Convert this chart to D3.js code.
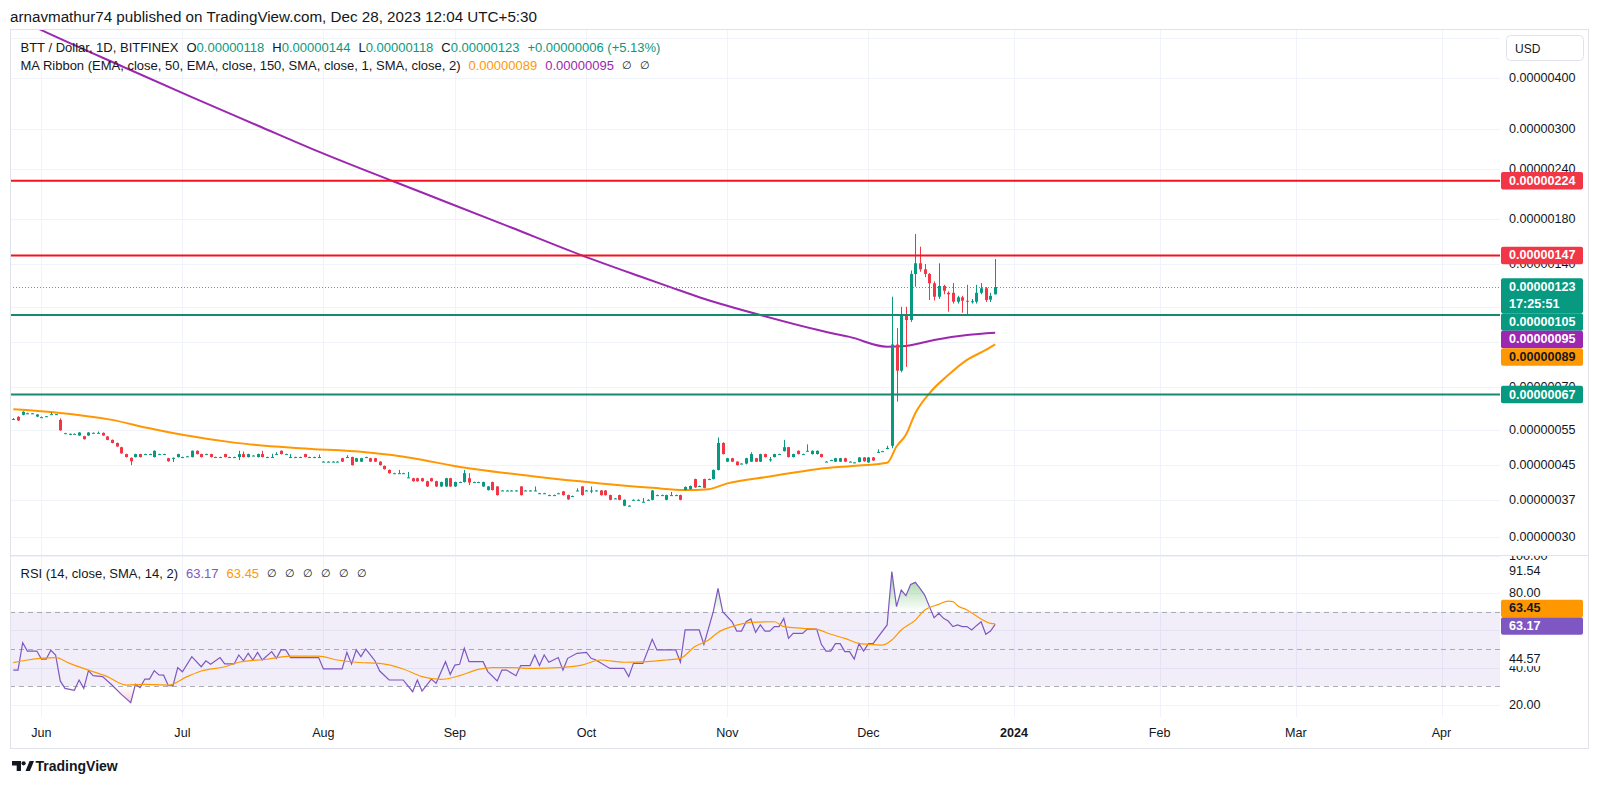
<!DOCTYPE html>
<html>
<head>
<meta charset="utf-8">
<script src="https://cdn.jsdelivr.net/npm/d3@7/dist/d3.min.js"></script>
<style>
  html, body { margin:0; padding:0; background:#ffffff; }
  svg { display:block; }
  text { font-family: "Liberation Sans", Arial, sans-serif; }
</style>
</head>
<body>
<svg id="chart" width="1600" height="787"></svg>
<script>
// ================= DATA (prices in units of 1e-8 USD) =================
const startDate = "2023-05-26";
const endDate = "2023-12-28";
const missingDates = ["2023-07-31","2023-08-20","2023-08-27","2023-08-28","2023-09-03","2023-09-17","2023-10-01"];

const open = [
58.4,59.1,59.8,60.3,60.3,59.2,59.0,59.3,60.0,60.0,
58.1,53.9,53.7,53.7,53.2,53.0,53.2,54.0,54.0,54.0,
52.9,51.9,51.0,49.8,47.9,46.9,47.1,47.9,47.9,47.9,
47.1,47.9,47.9,46.8,46.9,47.1,47.1,47.3,47.1,48.8,
47.9,47.9,47.9,47.1,47.1,47.9,47.1,47.1,47.1,47.9,
47.1,47.5,47.1,47.9,47.1,47.1,47.9,48.8,47.9,47.1,
47.1,47.1,47.9,47.1,47.1,47.1,45.9,45.9,45.9,45.9,
46.8,47.1,47.1,45.9,45.9,47.1,46.8,46.8,45.9,44.8,
43.8,43.0,43.0,43.0,42.0,41.8,41.8,41.8,41.1,41.8,
41.1,39.9,39.9,41.8,39.9,40.9,40.9,41.8,40.9,40.9,
39.9,39.1,40.9,39.9,39.0,39.0,39.0,39.0,39.9,39.0,
39.0,39.0,38.4,38.4,38.0,38.0,38.4,38.8,38.0,37.8,
39.0,39.9,39.0,39.0,39.0,39.0,39.0,38.0,37.3,38.0,
35.8,35.8,37.0,37.0,36.6,37.0,37.0,38.0,38.0,37.0,
38.0,38.0,38.0,39.1,39.3,41.6,40.0,41.6,41.6,41.6,
43.8,51.0,45.9,46.8,45.9,45.4,45.4,45.9,46.8,45.9,
47.9,46.5,47.1,47.9,48.7,49.8,47.1,48.8,47.9,48.8,
47.9,47.9,47.9,45.9,46.3,45.9,45.9,46.8,45.9,45.7,
45.8,47.0,45.7,47.0,48.4,48.7,49.3,50.2,88.9,76.7,
105,102.1,132.4,140.6,135.9,132.4,125.6,116.4,123.7,119,
119,113.2,116,113.8,113.2,113.2,119,122.1,114.5,118];
const high = [
58.7,59.3,61.0,60.5,60.4,60.0,59.2,59.4,60.6,60.1,
58.6,54.0,53.8,53.8,54.2,53.1,54.2,54.1,54.4,54.1,
53.0,52.0,51.1,49.9,48.0,47.0,48.0,48.0,48.0,48.0,
48.9,48.0,48.0,46.9,47.0,48.0,47.2,47.4,48.9,48.9,
48.0,48.0,48.0,47.2,47.2,48.0,47.2,47.2,48.8,48.6,
48.0,47.6,48.0,48.8,47.2,48.0,48.4,48.9,48.0,47.9,
47.2,47.2,48.0,47.2,47.2,47.8,46.0,46.0,46.0,46.0,
46.9,47.6,47.2,46.9,46.9,47.2,46.9,46.9,46.0,44.9,
43.9,43.1,43.8,43.1,43.3,41.9,41.9,41.9,41.2,41.9,
41.2,41.0,41.9,41.9,41.0,41.0,43.8,43.0,41.0,41.0,
41.0,40.0,41.0,40.0,39.1,39.1,39.1,39.1,40.0,39.1,
39.1,39.9,38.5,38.5,38.1,38.1,38.5,38.9,38.1,37.9,
39.5,40.0,39.1,39.9,39.1,39.1,39.1,38.1,37.4,38.1,
37.1,35.9,37.1,37.1,37.4,37.1,39.1,38.1,38.1,38.1,
38.7,38.1,38.1,39.9,40.1,41.7,40.1,41.7,41.7,43.9,
52.6,51.2,46.9,46.9,46.0,45.5,46.9,48.4,46.9,48.0,
48.0,47.1,48.0,48.0,51.9,49.9,48.0,48.9,48.0,50.6,
48.9,48.9,48.0,46.0,46.4,46.9,46.9,46.9,46.0,45.8,
47.1,47.1,47.1,47.1,49.2,48.8,50.2,116.4,97.6,110,
110,135,165.9,154.4,140,133,127,140.6,124.5,120,
125.8,117,117,124.5,115,124.5,125.7,123,119,144];
const low = [
58.2,57.7,59.6,60.1,60.1,59.0,58.9,59.1,59.9,59.8,
54.6,53.8,53.3,53.6,53.1,52.0,53.1,53.9,53.9,53.1,
51.8,50.9,49.9,48.0,47.0,45.0,47.0,47.0,47.8,47.8,
47.0,47.8,47.8,45.9,45.8,47.0,47.0,47.2,47.0,47.8,
47.0,47.8,47.0,47.0,47.0,47.0,47.0,47.0,46.3,47.0,
47.0,47.4,47.0,47.0,47.0,47.0,47.8,47.8,47.8,47.0,
47.0,47.0,47.0,47.0,47.0,47.0,45.8,45.8,45.8,45.8,
45.8,47.0,44.9,45.8,45.8,47.0,45.8,45.8,44.9,43.9,
42.9,42.9,42.9,42.9,41.9,41.0,41.0,41.0,39.8,41.0,
39.8,39.8,39.8,39.8,39.8,40.8,40.8,40.2,40.8,40.8,
39.8,39.0,39.0,37.9,38.9,38.9,38.9,38.9,37.9,38.9,
38.9,38.9,38.3,38.3,37.9,37.9,38.3,37.9,37.0,37.7,
38.9,37.9,38.9,38.4,38.9,37.9,37.9,36.9,37.2,36.9,
35.7,35.7,36.9,36.9,36.5,36.9,36.9,37.9,37.9,36.9,
37.9,37.9,36.9,39.0,39.2,39.6,39.9,39.5,41.5,41.5,
43.7,47.8,45.8,45.8,44.9,45.3,45.2,45.8,45.8,45.8,
47.0,45.9,47.0,47.8,48.6,47.0,47.0,47.8,47.8,48.7,
47.8,47.8,47.0,45.8,46.2,45.8,45.8,45.8,45.8,45.6,
45.7,45.9,45.6,46.1,48.2,48.6,49.2,49.5,64.4,76.0,
78.4,101,123.2,134,130,114.3,114,115,118,107,
112,112,106.4,105,112,112,118,113,113,118];
const close = [
58.4,57.9,60.8,60.3,60.3,59.9,59.0,59.3,60.0,60.0,
54.8,53.9,53.7,53.7,54.1,52.1,54.1,54.0,54.0,53.2,
51.9,51.0,50.0,48.1,47.1,46.0,47.9,47.1,47.9,47.9,
48.8,47.9,47.9,46.0,46.9,47.9,47.1,47.3,48.8,47.9,
47.1,47.9,47.1,47.1,47.1,47.1,47.1,47.1,47.9,47.1,
47.9,47.5,47.9,47.1,47.1,47.1,47.9,47.9,47.9,47.1,
47.1,47.1,47.1,47.1,47.1,47.1,45.9,45.9,45.9,45.9,
45.9,47.1,45.0,46.8,46.8,47.1,45.9,45.9,45.0,44.0,
43.0,43.0,43.0,43.0,42.0,41.1,41.1,41.1,39.9,41.1,
39.9,40.9,41.8,39.9,40.9,40.9,43.0,40.8,40.9,40.9,
40.9,39.9,39.1,38.0,39.0,39.0,39.0,39.0,38.0,39.0,
39.0,39.0,38.4,38.4,38.0,38.0,38.4,38.0,37.1,37.8,
39.0,38.0,39.0,39.0,39.0,38.0,38.0,37.0,37.3,37.0,
37.0,35.8,37.0,37.0,36.6,37.0,39.0,38.0,38.0,38.0,
38.0,38.0,37.0,39.8,40.0,39.7,40.0,39.6,41.6,43.8,
51.0,47.9,46.8,45.9,45.0,45.4,46.8,47.9,45.9,47.9,
47.1,46.5,47.9,47.9,49.8,47.1,47.9,47.9,47.9,48.8,
48.8,48.8,47.1,45.9,46.3,46.8,46.8,45.9,45.9,45.7,
47.0,46.0,47.0,46.2,48.5,48.7,49.6,88.9,76.7,105,
102.1,132.4,140.6,135.9,132.4,125.6,116.4,123.7,120.4,118,
113.2,116,113.8,113.2,113.5,119,122.1,114.3,117,123];

// MA Ribbon: EMA 50 (orange) and EMA 150 (purple), read at bar indices
const ema50Bars   = [0,9,21,29,36,47,61,75,82,86,93,111,125,136,143,148,152,161,171,180,186,188,190,192,195,199,203,207,209];
const ema50Values = [61.7,60.6,58.1,55.4,53.4,51.1,49.5,48.4,47.4,46.6,45.0,42.2,40.6,39.6,39.1,39.3,40.6,42.2,44.0,44.9,45.6,50.0,53.4,60.3,67.5,74.8,81.5,86.2,89.0];
const ema150Bars   = [0,6,24,38,52,65,81,92,106,121,133,140,147,159,174,178,186,190,196,203,209];
const ema150Values = [565,524,423,359,306,264,223,199,172,147,131,122.7,115.1,105,94.9,92.8,87.8,88.2,91.2,93.8,95];

// RSI (14) and its SMA (14), vertices read at bar indices
const rsiBars = [0,1,2,3,5,6,7,8,9,10,11,13,14,15,16,17,19,21,23,25,26,27,28,29,30,31,32,33,34,35,36,38,40,41,42,44,45,47,48,49,50,51,52,53,55,56,57,58,59,65,66,70,71,72,73,74,75,76,77,78,80,83,85,86,87,89,90,92,93,94,95,96,97,100,101,103,104,105,107,108,110,111,112,113,114,116,117,118,120,122,123,124,127,130,131,132,134,136,137,141,142,143,146,147,149,150,151,153,154,155,156,157,158,159,160,161,162,163,164,165,166,168,169,171,172,173,174,175,176,177,178,179,180,181,182,183,186,187,188,189,190,191,192,193,194,195,196,197,198,199,200,201,202,203,204,205,206,207,208,209];
const rsiValues = [38.7,38.7,53.4,48.9,48.9,44.6,44.6,49.3,46.8,32.9,28.9,27.9,33.4,28.9,38.4,35.7,35.2,30.7,25.7,21.2,31.1,29.3,33.9,33.9,38.4,36.1,36.0,30.3,30.3,40.0,37.8,45.9,40.5,43.7,41.8,45.4,42.0,42.0,46.8,43.7,47.7,44.1,48.2,44.1,48.6,45.0,49.5,49.5,45.4,45.4,39.3,39.3,48.2,42.0,49.5,45.9,50.0,46.8,43.6,38.2,33.4,33.4,27.1,33.4,27.5,33.9,31.6,43.2,36.4,41.4,41.8,50.4,43.2,43.2,37.9,32.9,38.7,38.7,35.7,41.1,41.1,46.8,41.1,46.8,42.9,45.4,38.7,45.0,47.7,48.2,45.0,44.1,39.6,39.6,35.2,42.3,42.3,55.2,49.5,49.5,42.9,60.2,60.2,52.5,70.0,82.5,70.0,64.6,59.6,59.6,64.6,66.1,58.9,62.9,59.6,59.6,62.0,62.0,66.4,55.7,58.4,58.4,60.7,60.7,52.5,48.9,48.9,52.9,52.9,48.6,48.6,44.6,52.9,48.9,52.9,52.9,62.9,91.54,72.7,81.6,78.6,84.6,85.7,82.5,78.9,72.7,66.8,69.1,66.4,65.0,62.0,62.9,62.0,62.0,60.2,62.5,64.6,57.9,59.6,63.17];
const rsiMaBars = [0,3,9,12,16,20,24,28,33,37,40,45,48,54,59,65,69,73,78,83,87,91,95,99,102,106,111,116,121,125,130,135,139,142,145,148,150,153,157,162,164,168,171,174,177,180,182,185,187,189,192,194,197,199,200,201,203,206,208,209];
const rsiMaValues = [42.7,44.1,45.4,42.3,38.7,35.2,30.7,31.1,30.7,35.2,38.2,40.5,42.9,44.5,46.2,46.2,44.1,42.9,42.3,39.3,35.2,33.7,35.7,39.1,40.0,40.0,39.6,40.0,41.4,44.1,42.9,43.2,44.1,45.0,51.2,54.8,58.9,62.0,64.3,64.6,62.0,61.1,60.5,57.9,55.7,53.0,52.5,52.1,54.8,60.2,65.5,70.9,73.9,75.7,75.4,73.2,70.9,66.1,63.7,63.45];

// Horizontal drawings
const resistanceLevels = [224, 147];
const supportLevels = [105, 67];

// Axis ticks (grid lines) and the tick labels that are visible
const priceTicks = [500, 400, 300, 240, 180, 140, 110, 90, 70, 55, 45, 37, 30];
const priceTickLabels = [400, 300, 240, 180, 140, 70, 55, 45, 37, 30];
const rsiTicks = [100, 80, 60, 40, 20];
const rsiTickLabels = [100, 80, 40, 20];
const rsiExtraLabels = [91.54, 44.57];
const rsiLevels = [70, 50, 30];
const monthTicks = ["2023-06-01","2023-07-01","2023-08-01","2023-09-01","2023-10-01","2023-11-01","2023-12-01","2024-01-01","2024-02-01","2024-03-01","2024-04-01"];
const countdown = "17:25:51";
const headerText = "arnavmathur74 published on TradingView.com, Dec 28, 2023 12:04 UTC+5:30";

// ================= LAYOUT / STYLE =================
const P = {l:10, r:1500, t:30, b:555};     // main pane
const R = {t:556, b:717};                  // rsi pane
const AX = 1509;                           // axis text x
const C = {
  text:"#131722", grid:"#f0f3fa", frame:"#e0e3eb",
  up:"#089981", down:"#f23645", red:"#f23645", teal:"#089981",
  ema50:"#ff9800", ema150:"#9c27b0", rsi:"#7e57c2", rsiMa:"#ff9800"
};
const fmtP = v => (v/1e8).toFixed(8);

const svg = d3.select("#chart");
svg.append("rect").attr("width",1600).attr("height",787).attr("fill","#fff");
const defs = svg.append("defs");

// ---------- dates / scales ----------
const fmtDay = d3.utcFormat("%Y-%m-%d");
const parseDay = d3.utcParse("%Y-%m-%d");
const dates = d3.utcDay.range(parseDay(startDate), d3.utcDay.offset(parseDay(endDate),1))
  .filter(d => !missingDates.includes(fmtDay(d)));
const bars = dates.map((d,i) => ({i, date:d, o:open[i], h:high[i], l:low[i], c:close[i]}));
const last = bars.length - 1;

const x = d3.scaleLinear().domain([-0.7, 316.45]).range([P.l, P.r]);
const y = d3.scaleLog().domain([30, 400]).range([537, 78]);
const yr = d3.scaleLinear().domain([20, 80]).range([705, 593]);

function dateIndex(d) {
  if (d <= dates[last]) return d3.bisectLeft(dates, d);
  return last + d3.utcDay.count(dates[last], d);
}

// ---------- clip paths ----------
defs.append("clipPath").attr("id","clipMain").append("rect")
  .attr("x",P.l).attr("y",P.t).attr("width",P.r-P.l).attr("height",P.b-P.t);
defs.append("clipPath").attr("id","clipRsi").append("rect")
  .attr("x",P.l).attr("y",R.t).attr("width",P.r-P.l).attr("height",R.b-R.t);
defs.append("clipPath").attr("id","clipMainAxis").append("rect")
  .attr("x",P.r).attr("y",62).attr("width",88).attr("height",P.b-62);
defs.append("clipPath").attr("id","clipRsiAxis").append("rect")
  .attr("x",P.r).attr("y",R.t).attr("width",88).attr("height",R.b-R.t);
defs.append("clipPath").attr("id","clipOB").append("rect")
  .attr("x",P.l).attr("y",R.t).attr("width",P.r-P.l).attr("height",yr(70)-R.t);
defs.append("clipPath").attr("id","clipOS").append("rect")
  .attr("x",P.l).attr("y",yr(30)).attr("width",P.r-P.l).attr("height",R.b-yr(30));

const gOB = defs.append("linearGradient").attr("id","gradOB").attr("gradientUnits","userSpaceOnUse")
  .attr("x1",0).attr("x2",0).attr("y1",yr(100)).attr("y2",yr(70));
gOB.append("stop").attr("offset",0).attr("stop-color","#4caf50").attr("stop-opacity",0.85);
gOB.append("stop").attr("offset",1).attr("stop-color","#4caf50").attr("stop-opacity",0);
const gOS = defs.append("linearGradient").attr("id","gradOS").attr("gradientUnits","userSpaceOnUse")
  .attr("x1",0).attr("x2",0).attr("y1",yr(30)).attr("y2",yr(0));
gOS.append("stop").attr("offset",0).attr("stop-color","#f23645").attr("stop-opacity",0);
gOS.append("stop").attr("offset",1).attr("stop-color","#f23645").attr("stop-opacity",0.8);

// ---------- grid ----------
const tickDates = monthTicks.map(s => parseDay(s));
const grid = svg.append("g");
grid.selectAll("line.v").data(tickDates).join("line")
  .attr("x1", d => Math.round(x(dateIndex(d)))+0.5).attr("x2", d => Math.round(x(dateIndex(d)))+0.5)
  .attr("y1", P.t).attr("y2", R.b).attr("stroke", C.grid);
grid.selectAll("line.h").data(priceTicks).join("line")
  .attr("x1", P.l).attr("x2", P.r)
  .attr("y1", d => Math.round(y(d))+0.5).attr("y2", d => Math.round(y(d))+0.5)
  .attr("stroke", C.grid);
grid.selectAll("line.hr").data(rsiTicks).join("line")
  .attr("x1", P.l).attr("x2", P.r)
  .attr("y1", d => Math.round(yr(d))+0.5).attr("y2", d => Math.round(yr(d))+0.5)
  .attr("stroke", C.grid);

// ---------- main pane ----------
const main = svg.append("g").attr("clip-path","url(#clipMain)");
const lineGen = d3.line().x(d => x(d.i)).y(d => y(d.v)).curve(d3.curveMonotoneX);
main.append("path").datum(ema150Bars.map((b,k)=>({i:b, v:ema150Values[k]})))
  .attr("d", lineGen).attr("fill","none").attr("stroke",C.ema150).attr("stroke-width",2);
main.append("path").datum(ema50Bars.map((b,k)=>({i:b, v:ema50Values[k]})))
  .attr("d", lineGen).attr("fill","none").attr("stroke",C.ema50).attr("stroke-width",2);

const col = d => d.c >= d.o ? C.up : C.down;
const cx = d => Math.round(x(d.i));
main.selectAll("line.wick").data(bars).join("line")
  .attr("x1", d => cx(d)+0.5).attr("x2", d => cx(d)+0.5)
  .attr("y1", d => y(d.h)).attr("y2", d => y(d.l))
  .attr("stroke", col).attr("stroke-width",1);
main.selectAll("rect.body").data(bars).join("rect")
  .attr("x", d => cx(d)-1).attr("width", 3)
  .attr("y", d => Math.min(y(d.o), y(d.c)))
  .attr("height", d => Math.max(1, Math.abs(y(d.o)-y(d.c))))
  .attr("fill", col);

// current price dotted line
main.append("line").attr("x1",P.l).attr("x2",P.r)
  .attr("y1", Math.round(y(close[last]))+0.5).attr("y2", Math.round(y(close[last]))+0.5)
  .attr("stroke", C.teal).attr("stroke-opacity",0.8).attr("stroke-dasharray","1,2").attr("stroke-width",1);

// horizontal drawings
main.selectAll("line.res").data(resistanceLevels).join("line")
  .attr("x1",P.l).attr("x2",P.r).attr("y1", d=>y(d)).attr("y2", d=>y(d))
  .attr("stroke","#f5121f").attr("stroke-width",2);
main.selectAll("line.sup").data(supportLevels).join("line")
  .attr("x1",P.l).attr("x2",P.r).attr("y1", d=>y(d)).attr("y2", d=>y(d))
  .attr("stroke","#158a6e").attr("stroke-width",2);

// ---------- RSI pane ----------
const rp = svg.append("g").attr("clip-path","url(#clipRsi)");
rp.append("rect").attr("x",P.l).attr("width",P.r-P.l)
  .attr("y", yr(70)).attr("height", yr(30)-yr(70)).attr("fill","rgba(126,87,194,0.1)");
rp.selectAll("line.lvl").data(rsiLevels).join("line")
  .attr("x1",P.l).attr("x2",P.r)
  .attr("y1", d => Math.round(yr(d))+0.5).attr("y2", d => Math.round(yr(d))+0.5)
  .attr("stroke","#787b86").attr("stroke-opacity",0.6).attr("stroke-dasharray","5,4");
const rsiPts = rsiBars.map((b,k)=>({i:b, v:rsiValues[k]}));
const rsiMaPts = rsiMaBars.map((b,k)=>({i:b, v:rsiMaValues[k]}));
rp.append("path").datum(rsiPts).attr("clip-path","url(#clipOB)")
  .attr("d", d3.area().x(d=>x(d.i)).y0(yr(70)).y1(d=>yr(d.v))).attr("fill","url(#gradOB)");
rp.append("path").datum(rsiPts).attr("clip-path","url(#clipOS)")
  .attr("d", d3.area().x(d=>x(d.i)).y0(yr(30)).y1(d=>yr(d.v))).attr("fill","url(#gradOS)");
const rLine = d3.line().x(d=>x(d.i)).y(d=>yr(d.v));
rp.append("path").datum(rsiPts).attr("d", rLine).attr("fill","none")
  .attr("stroke", C.rsi).attr("stroke-width",1.2);
rp.append("path").datum(rsiMaPts).attr("d", rLine.curve(d3.curveMonotoneX)).attr("fill","none")
  .attr("stroke", C.rsiMa).attr("stroke-width",1.2);

// pane separator
svg.append("line").attr("x1",P.l).attr("x2",1588).attr("y1",555.5).attr("y2",555.5).attr("stroke","#e0e3eb");

// ---------- price axis ----------
const axM = svg.append("g").attr("clip-path","url(#clipMainAxis)");
axM.selectAll("text").data(priceTickLabels).join("text")
  .attr("x", AX).attr("y", d => y(d)).attr("dominant-baseline","central")
  .attr("font-size",12.6).attr("fill",C.text).text(fmtP);

const axR = svg.append("g").attr("clip-path","url(#clipRsiAxis)");
axR.selectAll("text.t").data(rsiTickLabels).join("text")
  .attr("x", AX).attr("y", d => yr(d)).attr("dominant-baseline","central")
  .attr("font-size",12.6).attr("fill",C.text).text(d => d.toFixed(2));
rsiExtraLabels.forEach(v => {
  axR.append("rect").attr("x",P.r+2).attr("y",yr(v)-7).attr("width",80).attr("height",14).attr("fill","#fff");
  axR.append("text").attr("x",AX).attr("y",yr(v)).attr("dominant-baseline","central")
    .attr("font-size",12.6).attr("fill",C.text).text(v.toFixed(2));
});

// label boxes
const LH = 17.5;
function box(top, lines, fill, color) {
  svg.append("rect").attr("x",1501).attr("y",top).attr("width",82).attr("height",LH*lines.length)
    .attr("fill",fill).attr("rx",2);
  lines.forEach((s,k) => svg.append("text").attr("x",AX).attr("y",top+LH*(k+0.5))
    .attr("dominant-baseline","central").attr("font-size",12.6).attr("font-weight","bold")
    .attr("fill",color).text(s));
}
const mainLabels = [
  {v:resistanceLevels[0], lines:[fmtP(resistanceLevels[0])], fill:C.red, color:"#fff"},
  {v:resistanceLevels[1], lines:[fmtP(resistanceLevels[1])], fill:C.red, color:"#fff"},
  {v:close[last], lines:[fmtP(close[last]), countdown], fill:C.teal, color:"#fff"},
  {v:supportLevels[0], lines:[fmtP(supportLevels[0])], fill:C.teal, color:"#fff"},
  {v:ema150Values[ema150Values.length-1], lines:[fmtP(ema150Values[ema150Values.length-1])], fill:C.ema150, color:"#fff"},
  {v:ema50Values[ema50Values.length-1], lines:[fmtP(ema50Values[ema50Values.length-1])], fill:C.ema50, color:C.text},
  {v:supportLevels[1], lines:[fmtP(supportLevels[1])], fill:C.teal, color:"#fff"}
].sort((a,b) => y(a.v) - y(b.v));
let prevBottom = -Infinity;
mainLabels.forEach(L => {
  const top = Math.max(y(L.v) - LH/2, prevBottom);
  box(top, L.lines, L.fill, L.color);
  prevBottom = top + LH*L.lines.length;
});
const rsiLast = rsiValues[rsiValues.length-1], rsiMaLast = rsiMaValues[rsiMaValues.length-1];
const rsiTop = yr(rsiLast) - LH/2 + 1.5;
box(rsiTop, [rsiLast.toFixed(2)], C.rsi, "#fff");
box(rsiTop - LH, [rsiMaLast.toFixed(2)], C.rsiMa, C.text);

// USD button
svg.append("rect").attr("x",1506.5).attr("y",35.5).attr("width",77).attr("height",25).attr("rx",4)
  .attr("fill","#fff").attr("stroke","#e0e3eb");
svg.append("text").attr("x",1515).attr("y",48.5).attr("dominant-baseline","central")
  .attr("font-size",12).attr("fill",C.text).text("USD");

// ---------- time axis ----------
svg.selectAll("text.month").data(tickDates).join("text")
  .attr("x", d => x(dateIndex(d))).attr("y", 733).attr("text-anchor","middle")
  .attr("dominant-baseline","central").attr("font-size",12.6).attr("fill",C.text)
  .attr("font-weight", d => d.getUTCMonth()===0 ? "bold" : "normal")
  .text(d => d.getUTCMonth()===0 ? d3.utcFormat("%Y")(d) : d3.utcFormat("%b")(d));

// ---------- frame ----------
svg.append("rect").attr("x",10.5).attr("y",29.5).attr("width",1578).attr("height",719)
  .attr("fill","none").attr("stroke",C.frame);

// ---------- header & legends ----------
svg.append("text").attr("x",10).attr("y",16.5).attr("dominant-baseline","central")
  .attr("font-size",15.2).attr("fill",C.text).text(headerText);

function flow(groups, x0, yy, gap, size) {
  let cxp = x0;
  groups.forEach(g => {
    const t = svg.append("text").attr("x",cxp).attr("y",yy).attr("dominant-baseline","central")
      .attr("font-size",size);
    g.forEach(([s,c,fs]) => { const ts = t.append("tspan").attr("fill",c).text(s); if (fs) ts.attr("font-size",fs); });
    cxp += t.node().getComputedTextLength() + gap;
  });
}
const o = open[last], h = high[last], l = low[last], c = close[last], pc = close[last-1];
const chg = c - pc, pct = chg/pc*100;
const NA = ["\u2205", C.text, 11];
flow([
  [["BTT / Dollar, 1D, BITFINEX", C.text]],
  [["O",C.text],[fmtP(o),C.teal]],
  [["H",C.text],[fmtP(h),C.teal]],
  [["L",C.text],[fmtP(l),C.teal]],
  [["C",C.text],[fmtP(c),C.teal]],
  [[(chg>=0?"+":"")+fmtP(chg)+" ("+(pct>=0?"+":"")+pct.toFixed(2)+"%)", C.teal]]
], 20.5, 47, 8, 13);
flow([
  [["MA Ribbon (EMA, close, 50, EMA, close, 150, SMA, close, 1, SMA, close, 2)", C.text]],
  [[fmtP(ema50Values[ema50Values.length-1]), C.ema50]],
  [[fmtP(ema150Values[ema150Values.length-1]), C.ema150]],
  [NA], [NA]
], 20.5, 65, 8, 13);
flow([
  [["RSI (14, close, SMA, 14, 2)", C.text]],
  [[rsiLast.toFixed(2), C.rsi]],
  [[rsiMaLast.toFixed(2), C.rsiMa]],
  [NA],[NA],[NA],[NA],[NA],[NA]
], 20.5, 573, 8, 13);

// ---------- TradingView logo ----------
const logo = svg.append("g").attr("fill","#131722");
logo.append("path").attr("d","M12,761 h9 v10 h-4.3 v-5.6 h-4.7 z");
logo.append("circle").attr("cx",23.6).attr("cy",763.3).attr("r",2.1);
logo.append("path").attr("d","M25.5,771 L29.6,761 h4.4 l-4.1,10 z");
svg.append("text").attr("x",35.5).attr("y",766).attr("dominant-baseline","central")
  .attr("font-size",14).attr("font-weight","bold").attr("fill","#131722").text("TradingView");
</script>
</body>
</html>
